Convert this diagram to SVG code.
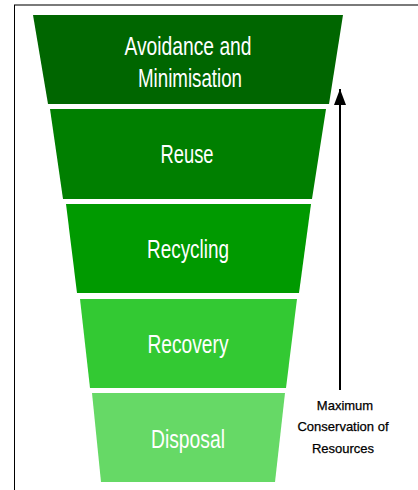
<svg xmlns="http://www.w3.org/2000/svg" width="418" height="490" viewBox="0 0 418 490">
<style>
.lbl{font-family:"Liberation Sans",Arial,sans-serif;font-size:25px;fill:#ffffff;text-anchor:middle}
.side{font-family:"Liberation Sans",Arial,sans-serif;font-size:13px;fill:#000000;text-anchor:middle;stroke:#000;stroke-width:0.25}
</style>
<defs>
<marker id="ah" viewBox="0 0 16 12" refX="16" refY="6" markerWidth="16" markerHeight="12" markerUnits="userSpaceOnUse" orient="auto">
<path d="M0,0 L16,6 L0,12 Z" fill="#000"/>
</marker>
</defs>
<rect x="0" y="0" width="418" height="490" fill="#ffffff"/>
<line x1="14" y1="5" x2="418" y2="5" stroke="#7a7a7a" stroke-width="2"/>
<line x1="14.5" y1="5" x2="14.5" y2="490" stroke="#000" stroke-width="1"/>
<g id="avoidance">
<polygon points="33,15 343,15 329,104 48,104" fill="#006600"/>
<text class="lbl" x="188" y="55" textLength="127" lengthAdjust="spacingAndGlyphs">Avoidance and</text>
<text class="lbl" x="190" y="87" textLength="104" lengthAdjust="spacingAndGlyphs">Minimisation</text>
</g>
<g id="reuse">
<polygon points="50,109 326,109 312,199 63,199" fill="#007f00"/>
<text class="lbl" x="187" y="163" textLength="53" lengthAdjust="spacingAndGlyphs">Reuse</text>
</g>
<g id="recycling">
<polygon points="66,204 311,204 299,293 77,293" fill="#009a00"/>
<text class="lbl" x="188" y="258" textLength="82" lengthAdjust="spacingAndGlyphs">Recycling</text>
</g>
<g id="recovery">
<polygon points="80,299 297,299 286,388 90,388" fill="#33c933"/>
<text class="lbl" x="188" y="353" textLength="81" lengthAdjust="spacingAndGlyphs">Recovery</text>
</g>
<g id="disposal">
<polygon points="92,393 285,393 275,482 101,482" fill="#66d966"/>
<text class="lbl" x="188" y="448" textLength="74" lengthAdjust="spacingAndGlyphs">Disposal</text>
</g>
<g id="connectors">
<line x1="340" y1="390" x2="340" y2="89" stroke="#000" stroke-width="2" marker-end="url(#ah)"/>
</g>
<g id="label-conservation">
<text class="side" x="345" y="410">Maximum</text>
<text class="side" x="343" y="431">Conservation of</text>
<text class="side" x="343" y="453">Resources</text>
</g>
</svg>
